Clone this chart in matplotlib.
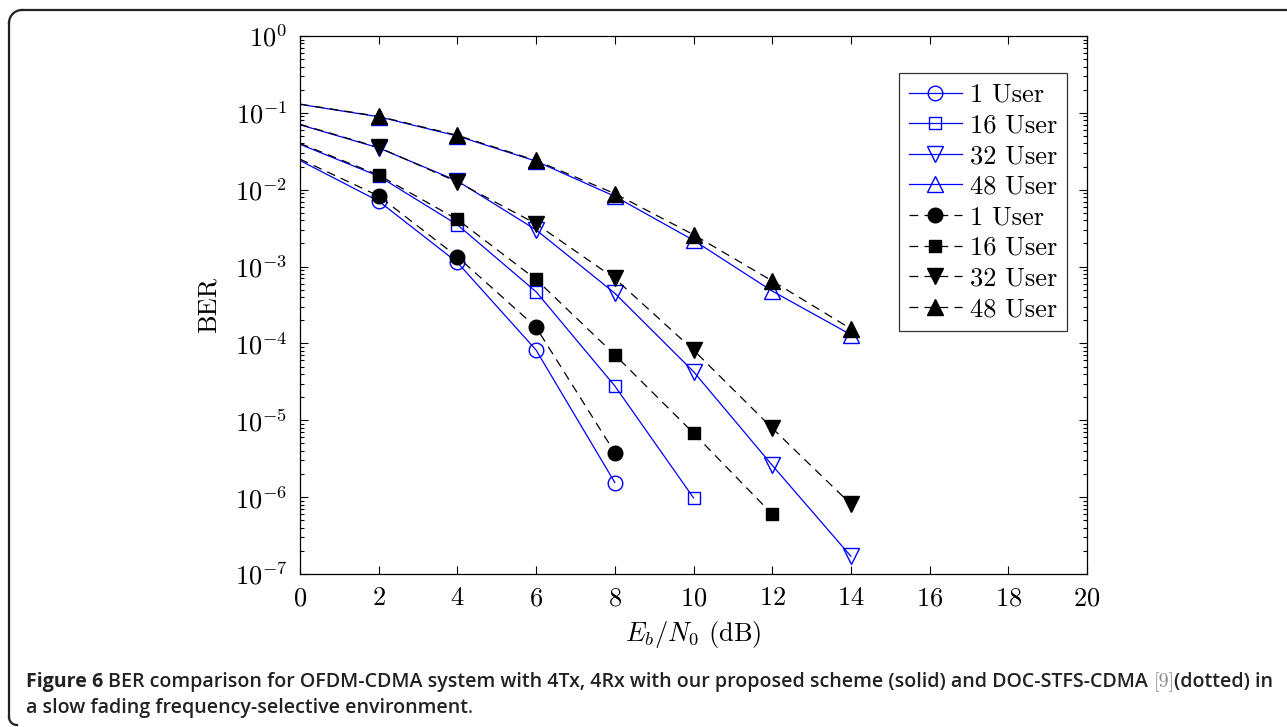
import numpy as np
import matplotlib
matplotlib.use('Agg')
import matplotlib.pyplot as plt
from matplotlib.lines import Line2D
from matplotlib.ticker import LogLocator, NullFormatter, MultipleLocator

plt.rcParams['font.family'] = 'serif'
plt.rcParams['font.serif'] = ['cmr10']
plt.rcParams['mathtext.fontset'] = 'cm'
plt.rcParams['axes.formatter.use_mathtext'] = True

# Eb/N0 points (dB)
snr = [0, 2, 4, 6, 8, 10, 12, 14]

# proposed scheme (solid)
ber_1_prop = [0.024, 0.0071, 0.00113, 8.2e-5, 1.55e-6]
ber_16_prop = [0.039, 0.015, 0.0035, 4.7e-4, 2.8e-5, 9.8e-7]
ber_32_prop = [0.070, 0.035, 0.013, 0.0030, 4.5e-4, 4.3e-5, 2.6e-6, 1.7e-7]
ber_48_prop = [0.129, 0.089, 0.050, 0.0235, 0.0082, 0.0022, 4.8e-4, 1.3e-4]

# DOC-STFS-CDMA (dashed)
ber_1_doc = [0.025, 0.0083, 0.00134, 1.62e-4, 3.8e-6]
ber_16_doc = [0.040, 0.0155, 0.0041, 6.8e-4, 7.1e-5, 6.8e-6, 6.0e-7]
ber_32_doc = [0.071, 0.0355, 0.0126, 0.0036, 7.0e-4, 8.2e-5, 7.9e-6, 8.1e-7]
ber_48_doc = [0.130, 0.090, 0.051, 0.024, 0.0089, 0.0026, 6.5e-4, 1.55e-4]

user_labels = ['1 User', '16 User', '32 User', '48 User']
markers = ['o', 's', 'v', '^']
msizes = [10.5, 8.5, 11, 11]

fig = plt.figure(figsize=(12.87, 7.27), dpi=100)
ax = fig.add_axes([300/1287, 1 - 574/727, 787/1287, 538/727])

prop = [ber_1_prop, ber_16_prop, ber_32_prop, ber_48_prop]
doc = [ber_1_doc, ber_16_doc, ber_32_doc, ber_48_doc]

blue = '#0000ff'
solid_style = dict(color=blue, lw=0.9, mfc='none', mec=blue, mew=1.0)
dash_style = dict(color='black', lw=0.9, dashes=(7, 5), mfc='black', mec='black')

handles = []
# no marker at 0 dB, markers from 2 dB on
for ys, m, ms in zip(prop, markers, msizes):
    ax.semilogy(snr[:len(ys)], ys, marker=m, ms=ms, markevery=slice(1, None), **solid_style)
    handles.append(Line2D([], [], marker=m, ms=ms, **solid_style))
for ys, m, ms in zip(doc, markers, msizes):
    ax.semilogy(snr[:len(ys)], ys, marker=m, ms=ms, markevery=slice(1, None), **dash_style)
    handles.append(Line2D([], [], marker=m, ms=ms, **dash_style))

ax.set_xlim(0, 20)
ax.set_ylim(1e-7, 1)
ax.xaxis.set_major_locator(MultipleLocator(2))
ax.yaxis.set_major_locator(LogLocator(base=10, numticks=20))
ax.yaxis.set_minor_locator(LogLocator(base=10, subs=np.arange(2, 10), numticks=20))
ax.yaxis.set_minor_formatter(NullFormatter())
ax.tick_params(which='both', direction='in', top=True, right=True, width=0.8)
ax.tick_params(which='major', length=6, labelsize=19, pad=9)
ax.tick_params(which='minor', length=3)
for sp in ax.spines.values():
    sp.set_linewidth(0.9)

ax.set_xlabel(r'$E_b/N_0$ (dB)', fontsize=19, labelpad=6)
ax.set_ylabel('BER', fontsize=19, labelpad=10)

leg = ax.legend(handles, user_labels * 2, loc='upper right', bbox_to_anchor=(0.9746, 0.931),
                borderaxespad=0, fontsize=19, frameon=True, fancybox=False,
                edgecolor='black', handlelength=2.0, handletextpad=0.3, borderpad=0.38,
                labelspacing=0.26)
leg.get_frame().set_linewidth(0.9)

# frame around the figure (open on the right)
frame_col = '#222222'
t = np.linspace(0, np.pi/2, 20)
fig.add_artist(Line2D([1287/1287, 22/1287], [717/727, 717/727], color=frame_col, lw=1.6,
                      transform=fig.transFigure))
fig.add_artist(Line2D([9/1287, 9/1287], [10/727, 704/727], color=frame_col, lw=1.6,
                      transform=fig.transFigure))
r = 13
fig.add_artist(Line2D((22 - r*np.cos(t))/1287, (704 + r*np.sin(t))/727, color=frame_col,
                      lw=1.6, transform=fig.transFigure))
r2 = 8
fig.add_artist(Line2D((17 - r2*np.cos(t))/1287, (10 - r2*np.sin(t))/727, color=frame_col,
                      lw=1.6, transform=fig.transFigure))

# caption, drawn piece by piece
renderer = fig.canvas.get_renderer()
cap_font = dict(family='Open Sans', fontsize=14.1, color='#222222')

def put(x, y, s, **kw):
    tt = fig.text(x/1287, 1 - y/727, s, ha='left', va='baseline', **kw)
    bb = tt.get_window_extent(renderer=renderer)
    return x + bb.width

x = put(26, 687, 'Figure 6 ', fontweight='bold', **cap_font)
x = put(x, 687, 'BER comparison for OFDM-CDMA system with 4Tx, 4Rx with our proposed scheme '
        '(solid) and DOC-STFS-CDMA ', fontweight='semibold', **cap_font)
x = put(x, 687, '[9]', family='cmr10', fontsize=14.5, color='#888888')
x = put(x, 687, '(dotted) in', fontweight='semibold', **cap_font)
x = put(26, 713, 'a slow fading frequency-selective environment', fontweight='semibold', **cap_font)
put(x, 713, '.', **cap_font)

fig.savefig('out.png', dpi=100)
